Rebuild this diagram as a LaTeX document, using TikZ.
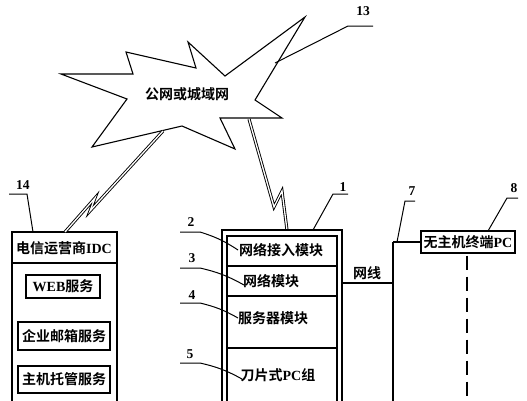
\documentclass[tikz,border=0pt]{standalone}
\usepackage{fontspec}
\setmainfont{Liberation Serif}
\newfontfamily\cjk{Noto Sans CJK SC}[BoldFont={Noto Sans CJK SC Bold}]
\newcommand\zh[1]{{\cjk\bfseries #1}}
\begin{document}
\begin{tikzpicture}[x=1pt,y=-1pt,
  ln/.style={line width=1.1pt, line join=miter},
  txt/.style={font=\bfseries\fontsize{14}{15}\selectfont, inner sep=0pt},
  num/.style={font=\bfseries\fontsize{13.5}{14}\selectfont, inner sep=0pt},
  lead/.style={line width=1pt},
  sbox/.style={draw, line width=1.1pt, inner sep=0pt},
  bolt/.style={double, double distance=1.3pt, line width=0.9pt, line join=miter, miter limit=30}]
\useasboundingbox (0,0) rectangle (527,400);
\fill[white] (0,0) rectangle (527,400);
\begin{scope}
\clip (0,0) rectangle (527,400);
% cloud / star
\draw[ln] (61,74) -- (133,74) -- (126,52) -- (196,68) -- (188,42) -- (225,76) -- (305,17)
  -- (255,100) -- (282,118) -- (220,118) -- (235,149) -- (182,126) -- (92,147) -- (127,99) -- cycle;
\node[txt] (net) at (187,94) {\zh{公网或城域网}};
% label 13
\node[num] (n13) at (363,11) {13};
\coordinate (l13a) at (373,26);
\coordinate (l13b) at (348,26);
\coordinate (l13c) at (275,63);
\draw[lead] (l13a) -- (l13b) -- (l13c);

% left box (IDC)
\coordinate (lbtl) at (12,232);
\coordinate (lbtr) at (117,232);
\draw[ln] (12,410) -- (lbtl) -- (lbtr) -- (117,410);
\draw[ln] (12,263) -- (117,263);
\node[txt] (idc) at (64,248) {\zh{电信运营商}IDC};
\node[sbox, minimum width=74pt, minimum height=23pt] (web) at (63,286.5) {};
\node[txt] at (web) {WEB\zh{服务}};
\node[sbox, minimum width=92pt, minimum height=28pt] (mail) at (64,336) {};
\node[txt] at (mail) {\zh{企业邮箱服务}};
\node[sbox, minimum width=92pt, minimum height=27pt] (host) at (64,379.5) {};
\node[txt] at (host) {\zh{主机托管服务}};
% label 14
\node[num] (n14) at (23,185) {14};
\coordinate (l14a) at (9,194);
\coordinate (l14b) at (27,194);
\coordinate (l14c) at (33,232);
\draw[lead] (l14a) -- (l14b) -- (l14c);

% lightning bolts
\coordinate (b1s) at (163,131);
\coordinate (b1z1) at (90,211);
\coordinate (b1z2) at (95,198);
\coordinate (b1e) at (65,232);
\draw[bolt] (b1s) -- (b1z1) -- (b1z2) -- (b1e);
\coordinate (b2s) at (249,119);
\coordinate (b2z1) at (274,207);
\coordinate (b2z2) at (282,191);
\coordinate (b2e) at (287,230);
\draw[bolt] (b2s) -- (b2z1) -- (b2z2) -- (b2e);

% middle box (1)
\draw[ln] (222,410) -- (222,230) -- (342,230) -- (342,410);
\draw[ln] (227,410) -- (227,236) -- (337,236) -- (337,410);
\draw[ln] (227,266) -- (337,266);
\draw[ln] (227,296) -- (337,296);
\draw[ln] (227,348) -- (337,348);
\node[txt] (m1) at (281,250) {\zh{网络接入模块}};
\node[txt] (m2) at (271,281) {\zh{网络模块}};
\node[txt] (m3) at (273,318) {\zh{服务器模块}};
\node[txt] (m4) at (278,375) {\zh{刀片式}PC\zh{组}};
% label 1
\node[num] (n1) at (343,187) {1};
\coordinate (l1a) at (348,194);
\coordinate (l1b) at (333,194);
\coordinate (l1c) at (313,230);
\draw[lead] (l1a) -- (l1b) -- (l1c);
% labels 2-5
\node[num] (n2) at (191,222) {2};
\coordinate (l2a) at (180,232);
\coordinate (l2b) at (200,232);
\coordinate (l2c) at (238,250);
\draw[lead] (l2a) -- (l2b) to[bend left=8] (l2c);
\node[num] (n3) at (192,258) {3};
\coordinate (l3a) at (180,268);
\coordinate (l3b) at (200,268);
\coordinate (l3c) at (244,285);
\draw[lead] (l3a) -- (l3b) to[bend left=8] (l3c);
\node[num] (n4) at (192,295) {4};
\coordinate (l4a) at (180,303);
\coordinate (l4b) at (200,303);
\coordinate (l4c) at (238,318);
\draw[lead] (l4a) -- (l4b) to[bend left=8] (l4c);
\node[num] (n5) at (190,354) {5};
\coordinate (l5a) at (180,363);
\coordinate (l5b) at (200,363);
\coordinate (l5c) at (242,379);
\draw[lead] (l5a) -- (l5b) to[bend left=8] (l5c);

% network cable
\node[txt] (cable) at (367,273) {\zh{网线}};
\coordinate (c1) at (342,283);
\coordinate (c2) at (393,283);
\coordinate (c3) at (393,242);
\coordinate (c4) at (393,410);
\draw[ln] (c1) -- (c2);
\draw[ln] (c3) -- (c4);
% terminal
\node[sbox, minimum width=94pt, minimum height=22pt] (term) at (468,242) {};
\node[txt] at (term) {\zh{无主机终端}PC};
\draw[ln] (c3) -- (term.west);
% label 7
\node[num] (n7) at (412,191) {7};
\coordinate (l7a) at (415,201);
\coordinate (l7b) at (405,201);
\coordinate (l7c) at (397,242);
\draw[lead] (l7a) -- (l7b) -- (l7c);
% label 8
\node[num] (n8) at (514,188) {8};
\coordinate (l8a) at (518,198);
\coordinate (l8b) at (507,198);
\coordinate (l8c) at (488,231);
\draw[lead] (l8a) -- (l8b) -- (l8c);
% dashed line
\coordinate (d2) at (467,410);
\draw[line width=1.1pt, dash pattern=on 14pt off 7pt] (term.south -| d2) ++(0,2) -- (d2);
\end{scope}
\end{tikzpicture}
\end{document}
